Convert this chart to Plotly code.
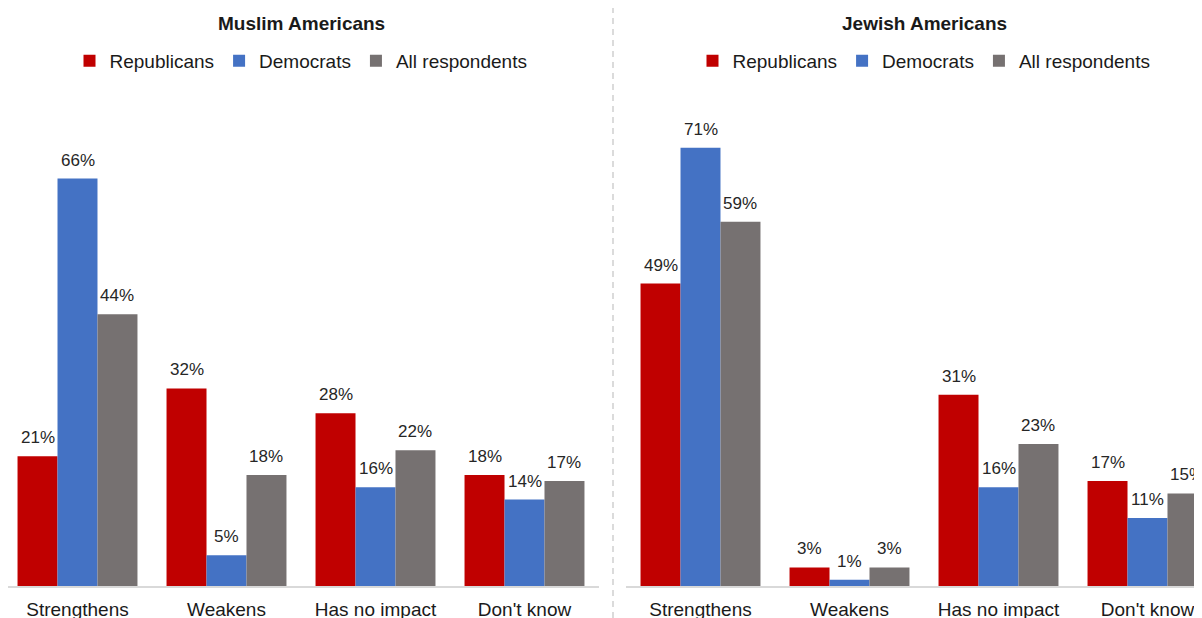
import plotly.graph_objects as go

categories = ["Strengthens", "Weakens", "Has no impact", "Don't know"]
series_names = ["Republicans", "Democrats", "All respondents"]
series_colors = ["#C00000", "#4472C4", "#767171"]

muslim_rep = [21, 32, 28, 18]
muslim_dem = [66, 5, 16, 14]
muslim_all = [44, 18, 22, 17]

jewish_rep = [49, 3, 31, 17]
jewish_dem = [71, 1, 16, 11]
jewish_all = [59, 3, 23, 15]

panels = [
    ("Muslim Americans", [muslim_rep, muslim_dem, muslim_all]),
    ("Jewish Americans", [jewish_rep, jewish_dem, jewish_all]),
]

OFF = 8  # default page body margin
W, H = 1202 - OFF, 618 - OFF
BARGAP = 0.195
CAT_PX = 149.0
FONT = "Liberation Sans, Arial, sans-serif"
TXT = "#1a1a1a"


def px(v):
    return v - OFF


plot_top, plot_bot = px(123), px(586)
ph = plot_bot - plot_top

fig = go.Figure()

axes = [("x", "y", "legend"), ("x2", "y2", "legend2")]
annotations = []
for p, (title, data) in enumerate(panels):
    xa, ya, lg = axes[p]
    for j, vals in enumerate(data):
        fig.add_trace(go.Bar(
            x=categories, y=vals, name=series_names[j],
            marker=dict(color=series_colors[j], line=dict(width=0)),
            xaxis=xa, yaxis=ya, legend=lg, hoverinfo="skip",
        ))
        w = (1 - BARGAP) / 3
        for i, v in enumerate(vals):
            annotations.append(dict(
                x=i + (j - 1) * w, y=v, xref=xa, yref=ya,
                text=f"{v}%", showarrow=False, yanchor="bottom",
                yshift=7, font=dict(family=FONT, size=17, color="#262626"),
            ))

left_dom = [0.0, px(599) / W]
left_start = -0.5 + (OFF - 3) / CAT_PX
right_dom = [px(626) / W, 1.0]
right_end = 3.5 - (1222 - 1202) / CAT_PX
left_c = px(301) / W
right_c = px(924) / W

axis_common = dict(
    type="category", showgrid=False, zeroline=False, showline=True,
    linecolor="#D9D9D9", linewidth=1.5, ticks="outside", ticklen=5,
    tickcolor="rgba(0,0,0,0)", automargin=False,
    tickfont=dict(family=FONT, size=19, color=TXT), fixedrange=True,
)
yaxis_common = dict(range=[0, 75], visible=False, showgrid=False,
                    fixedrange=True, automargin=False)

legend_common = dict(
    orientation="h", xanchor="center", yanchor="middle", yref="container",
    y=1 - px(61) / H, font=dict(family=FONT, size=19, color=TXT),
    bgcolor="rgba(0,0,0,0)", itemclick=False, itemdoubleclick=False,
    traceorder="normal",
)

for p, (title, data) in enumerate(panels):
    annotations.append(dict(
        x=left_c if p == 0 else right_c, y=(plot_bot - px(24)) / ph,
        xref="paper", yref="paper", text=f"<b>{title}</b>",
        showarrow=False, yanchor="middle", xanchor="center",
        font=dict(family=FONT, size=19, color=TXT),
    ))

fig.update_layout(
    width=W, height=H,
    margin=dict(l=0, r=0, t=plot_top, b=H - plot_bot, autoexpand=False),
    paper_bgcolor="white", plot_bgcolor="white",
    barmode="group", bargap=BARGAP, bargroupgap=0,
    xaxis=dict(domain=left_dom, range=[left_start, 3.5], **axis_common),
    xaxis2=dict(domain=right_dom, range=[-0.5, right_end], anchor="y2", **axis_common),
    yaxis=dict(anchor="x", **yaxis_common),
    yaxis2=dict(anchor="x2", **yaxis_common),
    legend=dict(x=left_c, **legend_common),
    legend2=dict(x=right_c, **legend_common),
    annotations=annotations,
    shapes=[dict(
        type="line", xref="paper", yref="paper",
        x0=px(613) / W, x1=px(613) / W,
        y0=(plot_bot - px(618)) / ph, y1=(plot_bot - px(0)) / ph,
        line=dict(color="#D0D0D0", width=1.5, dash="6px,5px"),
    )],
    showlegend=True,
)

fig.write_html("out.html", config={"displayModeBar": False})
